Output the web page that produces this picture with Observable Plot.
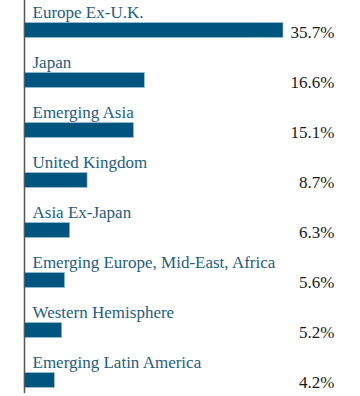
<!DOCTYPE html>
<html>
<head>
<meta charset="utf-8">
<script src="https://cdn.jsdelivr.net/npm/d3@7"></script>
<script src="https://cdn.jsdelivr.net/npm/@observablehq/plot@0.6"></script>
<style>
  html, body { margin: 0; padding: 0; background: #fff; }
  #chart svg { display: block; }
</style>
</head>
<body>
<div id="chart"></div>
<script>
const regions = ["Europe Ex-U.K.", "Japan", "Emerging Asia", "United Kingdom", "Asia Ex-Japan", "Emerging Europe, Mid-East, Africa", "Western Hemisphere", "Emerging Latin America"];
const weights = [35.7, 16.6, 15.1, 8.7, 6.3, 5.6, 5.2, 4.2];
const valueLabels = ["35.7%", "16.6%", "15.1%", "8.7%", "6.3%", "5.6%", "5.2%", "4.2%"];

const data = regions.map((r, i) => ({region: r, value: weights[i], label: valueLabels[i]}));

const chart = Plot.plot({
  width: 360,
  height: 396,
  marginTop: 0,
  marginBottom: 3,
  marginLeft: 0,
  marginRight: 26,
  style: {fontFamily: "'Liberation Serif', serif", background: "#fff"},
  x: {domain: [0, 35.7], range: [24, 283], axis: null},
  y: {domain: regions, range: [4.5, 404.5], padding: 0, axis: null},
  marks: [
    Plot.barX(data, {x: "value", y: "region", fill: "#00557f", stroke: "#9cc8e0", strokeWidth: 0.6, insetTop: 17.5, insetBottom: 17.5}),
    Plot.text(data, {x: 0, y: "region", text: "region", textAnchor: "start", dx: 8, dy: -17.5, fill: "#245d80", fontSize: 17}),
    Plot.text(data, {frameAnchor: "right", y: "region", text: "label", textAnchor: "end", dy: 1.7, fill: "#1a1a1a", fontSize: 17}),
    Plot.ruleX([0], {stroke: "#555", strokeWidth: 1.5})
  ]
});
document.getElementById("chart").appendChild(chart);
</script>
</body>
</html>
